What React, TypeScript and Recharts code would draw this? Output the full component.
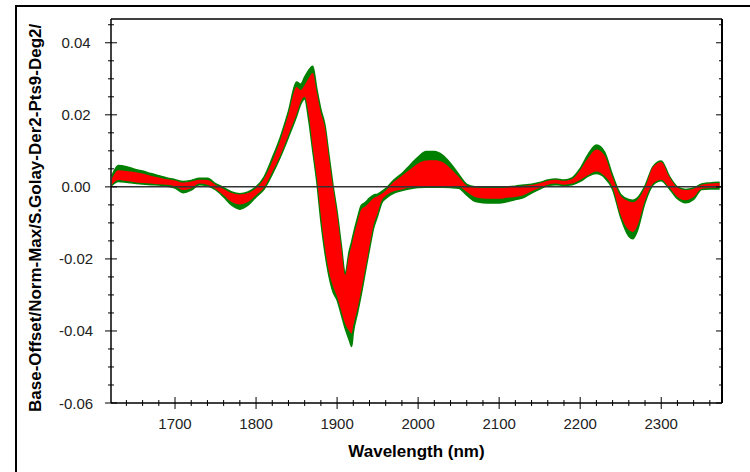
import { ComposedChart, Area, XAxis, YAxis, ReferenceLine } from "recharts";

// wavelength grid (nm)
const wavelengths = [
  1622, 1630, 1640, 1650, 1660, 1670, 1680, 1690, 1700, 1710, 1720, 1730, 1740, 1750, 1760, 1770, 1780, 1790, 1800, 1810,
  1820, 1830, 1840, 1850, 1855, 1860, 1865, 1870, 1875, 1880, 1885, 1890, 1895, 1900, 1905, 1910, 1915, 1918, 1920, 1925,
  1930, 1935, 1940, 1945, 1950, 1955, 1960, 1970, 1980, 1990, 2000, 2010, 2020, 2030, 2040, 2050, 2060, 2070, 2080, 2090,
  2100, 2110, 2120, 2130, 2140, 2150, 2160, 2170, 2180, 2190, 2200, 2210, 2220, 2230, 2240, 2250, 2260, 2265, 2270, 2280,
  2290, 2300, 2310, 2320, 2330, 2340, 2350, 2360, 2372,
];

// outer (green) spectra envelope
const greenHigh = [
  0.003, 0.0059, 0.0056, 0.0049, 0.0044, 0.0037, 0.0031, 0.0025, 0.002, 0.0015, 0.0018, 0.0024, 0.0024, 0.0009, -0.0002, -0.0014, -0.0019, -0.0014, 0.0, 0.0028,
  0.008, 0.0138, 0.021, 0.0291, 0.0285, 0.0305, 0.0324, 0.0335, 0.0272, 0.0215, 0.0172, 0.0088, 0.0004, -0.0069, -0.0158, -0.0238, -0.0178, -0.0152, -0.0132, -0.0088,
  -0.0051, -0.0043, -0.0031, -0.0023, -0.002, -0.0013, -0.0005, 0.0019, 0.0037, 0.006, 0.0083, 0.0098, 0.0098, 0.0088, 0.0065, 0.0035, 0.0007, 0.0, -0.0001, -0.0001,
  -0.0001, 0.0, 0.0002, 0.0005, 0.0007, 0.0012, 0.0019, 0.0022, 0.0019, 0.0025, 0.0051, 0.0091, 0.0116, 0.0097, 0.0032, -0.0021, -0.0035, -0.0037, -0.0032, 0.0003,
  0.0057, 0.0072, 0.003, 0.0, -0.0007, -0.0003, 0.0008, 0.0011, 0.0013,
];
const greenLow = [
  0.0004, 0.0015, 0.0013, 0.001, 0.0008, 0.0006, 0.0005, 0.0002, -0.0003, -0.0016, -0.0009, 0.0006, 0.0003, -0.0008, -0.0028, -0.0051, -0.0062, -0.0051, -0.0028, -0.0006,
  0.0035, 0.0083, 0.0138, 0.0196, 0.0229, 0.0244, 0.0185, 0.0099, 0.0013, -0.0095, -0.0182, -0.0248, -0.0292, -0.0314, -0.0353, -0.0393, -0.0425, -0.0443, -0.0405, -0.0352,
  -0.0296, -0.0234, -0.0173, -0.0115, -0.0081, -0.0045, -0.0032, -0.0017, -0.001, -0.0005, -0.0002, -0.0001, -0.0001, -0.0001, -0.0002, -0.0004, -0.0023, -0.004, -0.0044, -0.0045,
  -0.0045, -0.0041, -0.0035, -0.003, -0.0017, -0.0006, 0.0004, 0.0006, 0.0004, 0.0006, 0.0015, 0.003, 0.0037, 0.0026, -0.0007, -0.0085, -0.0137, -0.0144, -0.0125, -0.0044,
  0.0006, 0.0017, -0.0005, -0.0033, -0.0044, -0.0035, -0.0007, -0.0006, -0.0006,
];

// inner (red) spectra envelope
const redHigh = [
  0.0022, 0.0046, 0.0044, 0.0041, 0.0037, 0.0031, 0.0026, 0.0021, 0.0018, 0.0012, 0.0015, 0.002, 0.0019, 0.0006, -0.0006, -0.0017, -0.0021, -0.0017, -0.0003, 0.0023,
  0.0071, 0.013, 0.0202, 0.0277, 0.0269, 0.0283, 0.0302, 0.0316, 0.0262, 0.0206, 0.0165, 0.0081, -0.0002, -0.0076, -0.0165, -0.0245, -0.0188, -0.0162, -0.0142, -0.0098,
  -0.0062, -0.0054, -0.0043, -0.0031, -0.0026, -0.0019, -0.001, 0.0014, 0.0031, 0.0048, 0.0065, 0.0073, 0.0074, 0.0069, 0.0051, 0.0028, 0.0004, -0.0002, -0.0003, -0.0003,
  -0.0003, -0.0002, 0.0, 0.0003, 0.0005, 0.001, 0.0017, 0.002, 0.0017, 0.0022, 0.0047, 0.0081, 0.0104, 0.0088, 0.0026, -0.0025, -0.004, -0.0043, -0.0037, -0.0001,
  0.0056, 0.0069, 0.0028, -0.0002, -0.0009, -0.0005, 0.0006, 0.0009, 0.0011,
];
const redLow = [
  0.0006, 0.0019, 0.0016, 0.0013, 0.0011, 0.0009, 0.0007, 0.0006, 0.0002, -0.0009, -0.0004, 0.0009, 0.0006, -0.0006, -0.0023, -0.0042, -0.0049, -0.0042, -0.0023, -0.0002,
  0.0041, 0.0088, 0.0144, 0.0202, 0.0235, 0.025, 0.0199, 0.011, 0.0024, -0.0081, -0.017, -0.0236, -0.0276, -0.0305, -0.0343, -0.038, -0.04, -0.0407, -0.0385, -0.034,
  -0.0285, -0.0226, -0.0165, -0.0106, -0.0073, -0.0038, -0.0025, -0.0012, -0.0007, -0.0002, 0.0001, 0.0002, 0.0002, 0.0002, 0.0001, 0.0, -0.0014, -0.0028, -0.0032, -0.0033,
  -0.0033, -0.003, -0.0028, -0.0023, -0.0012, -0.0003, 0.0006, 0.0009, 0.0006, 0.0009, 0.0019, 0.0033, 0.0043, 0.003, -0.0002, -0.0079, -0.012, -0.0125, -0.0111, -0.0038,
  0.0009, 0.002, -0.0002, -0.0028, -0.0037, -0.0028, -0.0005, -0.0003, -0.0002,
];

const xTicks = [
  1640, 1660, 1680, 1700, 1720, 1740, 1760, 1780, 1800, 1820, 1840, 1860, 1880, 1900, 1920, 1940, 1960, 1980, 2000,
  2020, 2040, 2060, 2080, 2100, 2120, 2140, 2160, 2180, 2200, 2220, 2240, 2260, 2280, 2300, 2320, 2340, 2360,
];
const yTicks = [
  -0.06, -0.055, -0.05, -0.045, -0.04, -0.035, -0.03, -0.025, -0.02, -0.015, -0.01, -0.005, 0, 0.005, 0.01, 0.015,
  0.02, 0.025, 0.03, 0.035, 0.04, 0.045,
];

const data = wavelengths.map((wl, i) => ({
  wl,
  green: [greenLow[i], greenHigh[i]],
  red: [redLow[i], redHigh[i]],
}));

const FONT = "'Liberation Sans', Arial, sans-serif";
const isMajorX = (v: number) => v % 100 === 0;
const isMajorY = (v: number) => Math.round(v * 1000) % 20 === 0;

function BottomTick(props: any) {
  const { x, y, payload } = props;
  const major = isMajorX(payload.value);
  const len = major ? 6 : 3;
  return (
    <g>
      <line x1={x} x2={x} y1={y - len} y2={y + len} stroke="#000" />
      {major && (
        <text x={x} y={y + 26} textAnchor="middle" fontSize={15} fontFamily={FONT} fill="#222">
          {payload.value}
        </text>
      )}
    </g>
  );
}

function TopTick(props: any) {
  const { x, y, payload } = props;
  const len = isMajorX(payload.value) ? 6 : 3;
  return <line x1={x} x2={x} y1={y} y2={y + len} stroke="#000" />;
}

function LeftTick(props: any) {
  const { x, y, payload } = props;
  const major = isMajorY(payload.value);
  const len = major ? 6 : 3;
  return (
    <g>
      <line x1={x - len} x2={x + len} y1={y} y2={y} stroke="#000" />
      {major && (
        <text x={x - 35} y={y + 5.5} textAnchor="middle" fontSize={15} fontFamily={FONT} fill="#222">
          {payload.value.toFixed(2)}
        </text>
      )}
    </g>
  );
}

function RightTick(props: any) {
  const { x, y, payload } = props;
  const len = isMajorY(payload.value) ? 6 : 3;
  return <line x1={x - len} x2={x} y1={y} y2={y} stroke="#000" />;
}

export default function App() {
  return (
    <div style={{ position: "absolute", left: 0, top: 0, width: 750, height: 472, background: "#fff" }}>
      <div
        style={{
          position: "absolute",
          left: 15,
          top: 5,
          width: 735,
          height: 467,
          borderTop: "2px solid #000",
          borderLeft: "2px solid #000",
          boxSizing: "border-box",
        }}
      />
      <div style={{ position: "absolute", left: 0, top: 0 }}>
        <ComposedChart
          width={750}
          height={472}
          data={data}
          margin={{ top: 9, right: 8, bottom: 9, left: 11 }}
        >
          <XAxis
            dataKey="wl"
            type="number"
            domain={[1621, 2375]}
            allowDataOverflow
            ticks={xTicks}
            interval={0}
            tickSize={0}
            tickMargin={0}
            tickLine={false}
            tick={<BottomTick />}
            height={60}
            axisLine={{ stroke: "#000", strokeWidth: 1.5 }}
          />
          <XAxis
            xAxisId="top"
            orientation="top"
            type="number"
            domain={[1621, 2375]}
            allowDataOverflow
            ticks={xTicks}
            interval={0}
            tickSize={0}
            tickMargin={0}
            tickLine={false}
            tick={<TopTick />}
            height={10}
            axisLine={{ stroke: "#000", strokeWidth: 1.5 }}
          />
          <YAxis
            type="number"
            domain={[-0.06, 0.0466]}
            allowDataOverflow
            ticks={yTicks}
            interval={0}
            tickSize={0}
            tickMargin={0}
            tickLine={false}
            tick={<LeftTick />}
            width={100}
            axisLine={{ stroke: "#000", strokeWidth: 1.5 }}
          />
          <YAxis
            yAxisId="right"
            orientation="right"
            type="number"
            domain={[-0.06, 0.0466]}
            allowDataOverflow
            ticks={yTicks}
            interval={0}
            tickSize={0}
            tickMargin={0}
            tickLine={false}
            tick={<RightTick />}
            width={20}
            axisLine={{ stroke: "#000", strokeWidth: 2 }}
          />
          <Area
            type="monotone"
            dataKey="green"
            stroke="#008000"
            strokeWidth={1.5}
            fill="#008000"
            fillOpacity={1}
            dot={false}
            activeDot={false}
            isAnimationActive={false}
          />
          <Area
            type="monotone"
            dataKey="red"
            stroke="none"
            fill="#ff0000"
            fillOpacity={1}
            dot={false}
            activeDot={false}
            isAnimationActive={false}
          />
          <ReferenceLine y={0} stroke="#333" strokeWidth={1.5} />
        </ComposedChart>
      </div>
      <div
        style={{
          position: "absolute",
          left: 111,
          width: 611,
          top: 442,
          lineHeight: "20px",
          textAlign: "center",
          fontFamily: FONT,
          fontWeight: "bold",
          fontSize: 17,
          color: "#000",
        }}
      >
        Wavelength (nm)
      </div>
      <div
        style={{
          position: "absolute",
          left: 36,
          top: 402,
          width: 420,
          height: 20,
          lineHeight: "20px",
          whiteSpace: "nowrap",
          fontFamily: FONT,
          fontWeight: "bold",
          fontSize: 17,
          color: "#000",
          transformOrigin: "0 50%",
          transform: "translateX(-10px) rotate(-90deg) translateY(10px)",
        }}
      >
        Base-Offset/Norm-Max/S.Golay-Der2-Pts9-Deg2/
      </div>
    </div>
  );
}
